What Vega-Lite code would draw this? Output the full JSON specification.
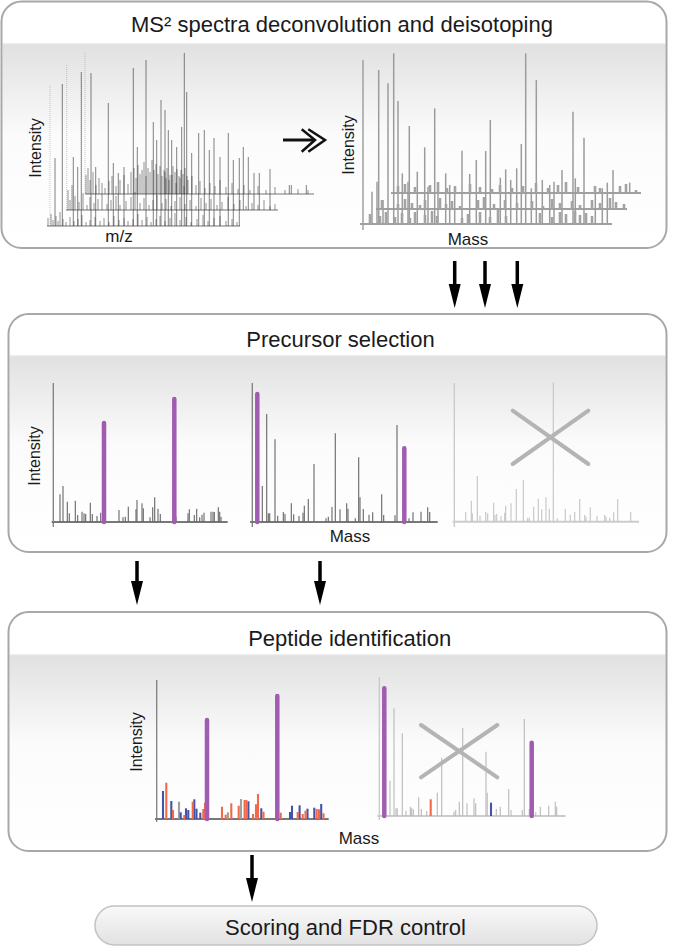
{
"$schema":"https://vega.github.io/schema/vega-lite/v6.json",
"width":676,"height":947,"autosize":{"type":"none"},"padding":0,"background":"white",
"config":{"view":{"stroke":null}},
"datasets":{
"boxes":[{"x":2.5,"x2":665.5,"y":44.5,"y2":247},{"x":9.5,"x2":665.5,"y":356.5,"y2":551},{"x":9.5,"x2":665.5,"y":655.5,"y2":850}],
"outlines":[{"x":1.5,"x2":666.5,"y":1.5,"y2":248},{"x":8.5,"x2":666.5,"y":314,"y2":552},{"x":8.5,"x2":666.5,"y":612,"y2":851}],
"pill":[{"x":95,"x2":597,"y":906,"y2":945}],
"lines":[
{"x":2.5,"x2":665.5,"y":44,"y2":44,"k":"sep"},{"x":9.5,"x2":665.5,"y":356,"y2":356,"k":"sep"},{"x":9.5,"x2":665.5,"y":655,"y2":655,"k":"sep"},
{"x":47,"x2":240,"y":226,"y2":226,"k":"tlb"},{"x":66,"x2":278,"y":210,"y2":210,"k":"tlb"},{"x":85,"x2":314,"y":194,"y2":194,"k":"tlb"},
{"x":363,"x2":363,"y":60,"y2":230,"k":"tra"},
{"x":360,"x2":612,"y":224,"y2":224,"k":"trb"},{"x":376,"x2":627,"y":209,"y2":209,"k":"trb"},{"x":391,"x2":641,"y":193,"y2":193,"k":"trb"},
{"x":53.3,"x2":53.3,"y":383,"y2":527,"k":"pa"},{"x":252.3,"x2":252.3,"y":383,"y2":527,"k":"pa"},{"x":156.7,"x2":156.7,"y":680,"y2":822,"k":"pa"},
{"x":51.7,"x2":227.7,"y":522,"y2":522,"k":"pb"},{"x":250,"x2":437.7,"y":522,"y2":522,"k":"pb"},{"x":155,"x2":328.7,"y":819,"y2":819,"k":"pb"},
{"x":454.3,"x2":454.3,"y":383,"y2":527,"k":"pla"},{"x":379.3,"x2":379.3,"y":677,"y2":820,"k":"pla"},
{"x":452.7,"x2":639,"y":521.7,"y2":521.7,"k":"plb"},{"x":377.3,"x2":565.7,"y":816,"y2":816,"k":"plb"}
],
"dots":[{"x":50,"y":85,"y2":226},{"x":66.7,"y":65,"y2":210},{"x":85,"y":52,"y2":194}],
"peaks":[
{"x":55,"y":158,"y2":226,"k":"tl"},{"x":62.3,"y":84,"y2":226,"k":"tl"},{"x":73.3,"y":157,"y2":226,"k":"tl"},{"x":77.7,"y":167,"y2":226,"k":"tl"},{"x":81.3,"y":72,"y2":226,"k":"tl"},{"x":91,"y":73,"y2":226,"k":"tl"},{"x":95.7,"y":167,"y2":226,"k":"tl"},{"x":108.3,"y":103,"y2":226,"k":"tl"},{"x":113.3,"y":163,"y2":226,"k":"tl"},{"x":118.3,"y":173,"y2":226,"k":"tl"},{"x":124,"y":167,"y2":226,"k":"tl"},{"x":133.3,"y":68,"y2":226,"k":"tl"},{"x":137.3,"y":147,"y2":226,"k":"tl"},{"x":146,"y":60,"y2":226,"k":"tl"},{"x":153.3,"y":122,"y2":226,"k":"tl"},{"x":156.7,"y":140,"y2":226,"k":"tl"},{"x":161,"y":100,"y2":226,"k":"tl"},{"x":165,"y":110,"y2":226,"k":"tl"},{"x":168.3,"y":130,"y2":226,"k":"tl"},{"x":171.7,"y":140,"y2":226,"k":"tl"},{"x":176.7,"y":147,"y2":226,"k":"tl"},{"x":181.7,"y":127,"y2":226,"k":"tl"},{"x":184.3,"y":53,"y2":226,"k":"tl"},{"x":186.7,"y":92,"y2":226,"k":"tl"},{"x":191.7,"y":153,"y2":226,"k":"tl"},{"x":198.7,"y":133,"y2":226,"k":"tl"},{"x":204.3,"y":130,"y2":226,"k":"tl"},{"x":209.3,"y":150,"y2":226,"k":"tl"},{"x":214,"y":138,"y2":226,"k":"tl"},{"x":220,"y":157,"y2":226,"k":"tl"},{"x":228.3,"y":133,"y2":226,"k":"tl"},{"x":233.3,"y":160,"y2":226,"k":"tl"},{"x":239.3,"y":158,"y2":226,"k":"tl"},{"x":243.3,"y":147,"y2":210,"k":"tl"},{"x":248.3,"y":157,"y2":210,"k":"tl"},{"x":254,"y":173,"y2":210,"k":"tl"},{"x":259.3,"y":173,"y2":210,"k":"tl"},{"x":270,"y":169,"y2":210,"k":"tl"},{"x":289.3,"y":185,"y2":194,"k":"tl"},{"x":291.3,"y":185,"y2":194,"k":"tl"},{"x":306.3,"y":185,"y2":194,"k":"tl"},
{"x":48,"y":218,"y2":226,"k":"tn"},{"x":51,"y":214,"y2":226,"k":"tn"},{"x":53,"y":220,"y2":226,"k":"tn"},{"x":56,"y":216,"y2":226,"k":"tn"},{"x":58,"y":221,"y2":226,"k":"tn"},{"x":60,"y":212,"y2":226,"k":"tn"},{"x":63,"y":219,"y2":226,"k":"tn"},{"x":66,"y":222,"y2":226,"k":"tn"},{"x":70,"y":217,"y2":226,"k":"tn"},{"x":74,"y":221,"y2":226,"k":"tn"},{"x":78,"y":219,"y2":226,"k":"tn"},{"x":82,"y":215,"y2":226,"k":"tn"},{"x":86,"y":222,"y2":226,"k":"tn"},{"x":90,"y":220,"y2":226,"k":"tn"},{"x":95,"y":217,"y2":226,"k":"tn"},{"x":100,"y":221,"y2":226,"k":"tn"},{"x":104,"y":218,"y2":226,"k":"tn"},{"x":109,"y":222,"y2":226,"k":"tn"},{"x":114,"y":216,"y2":226,"k":"tn"},{"x":119,"y":220,"y2":226,"k":"tn"},{"x":124,"y":218,"y2":226,"k":"tn"},{"x":128,"y":221,"y2":226,"k":"tn"},{"x":133,"y":219,"y2":226,"k":"tn"},{"x":138,"y":214,"y2":226,"k":"tn"},{"x":142,"y":220,"y2":226,"k":"tn"},{"x":147,"y":217,"y2":226,"k":"tn"},{"x":151,"y":222,"y2":226,"k":"tn"},{"x":156,"y":219,"y2":226,"k":"tn"},{"x":160,"y":216,"y2":226,"k":"tn"},{"x":165,"y":221,"y2":226,"k":"tn"},{"x":170,"y":218,"y2":226,"k":"tn"},{"x":175,"y":213,"y2":226,"k":"tn"},{"x":180,"y":220,"y2":226,"k":"tn"},{"x":186,"y":217,"y2":226,"k":"tn"},{"x":191,"y":222,"y2":226,"k":"tn"},{"x":197,"y":219,"y2":226,"k":"tn"},{"x":203,"y":215,"y2":226,"k":"tn"},{"x":208,"y":221,"y2":226,"k":"tn"},{"x":214,"y":218,"y2":226,"k":"tn"},{"x":220,"y":216,"y2":226,"k":"tn"},{"x":226,"y":221,"y2":226,"k":"tn"},{"x":232,"y":219,"y2":226,"k":"tn"},{"x":237,"y":222,"y2":226,"k":"tn"},
{"x":68,"y":190,"y2":210,"k":"tn"},{"x":70,"y":200,"y2":210,"k":"tn"},{"x":72,"y":185,"y2":210,"k":"tn"},{"x":75,"y":196,"y2":210,"k":"tn"},{"x":79,"y":202,"y2":210,"k":"tn"},{"x":83,"y":193,"y2":210,"k":"tn"},{"x":87,"y":205,"y2":210,"k":"tn"},{"x":90,"y":197,"y2":210,"k":"tn"},{"x":94,"y":203,"y2":210,"k":"tn"},{"x":98,"y":199,"y2":210,"k":"tn"},{"x":102,"y":194,"y2":210,"k":"tn"},{"x":107,"y":204,"y2":210,"k":"tn"},{"x":111,"y":200,"y2":210,"k":"tn"},{"x":116,"y":196,"y2":210,"k":"tn"},{"x":120,"y":205,"y2":210,"k":"tn"},{"x":126,"y":201,"y2":210,"k":"tn"},{"x":131,"y":197,"y2":210,"k":"tn"},{"x":135,"y":192,"y2":210,"k":"tn"},{"x":140,"y":203,"y2":210,"k":"tn"},{"x":144,"y":198,"y2":210,"k":"tn"},{"x":149,"y":205,"y2":210,"k":"tn"},{"x":153,"y":200,"y2":210,"k":"tn"},{"x":157,"y":195,"y2":210,"k":"tn"},{"x":162,"y":203,"y2":210,"k":"tn"},{"x":166,"y":199,"y2":210,"k":"tn"},{"x":171,"y":206,"y2":210,"k":"tn"},{"x":175,"y":201,"y2":210,"k":"tn"},{"x":180,"y":197,"y2":210,"k":"tn"},{"x":185,"y":204,"y2":210,"k":"tn"},{"x":190,"y":200,"y2":210,"k":"tn"},{"x":196,"y":206,"y2":210,"k":"tn"},{"x":201,"y":198,"y2":210,"k":"tn"},{"x":206,"y":203,"y2":210,"k":"tn"},{"x":211,"y":199,"y2":210,"k":"tn"},{"x":217,"y":205,"y2":210,"k":"tn"},{"x":222,"y":202,"y2":210,"k":"tn"},{"x":228,"y":197,"y2":210,"k":"tn"},{"x":234,"y":204,"y2":210,"k":"tn"},{"x":240,"y":200,"y2":210,"k":"tn"},{"x":246,"y":206,"y2":210,"k":"tn"},{"x":252,"y":203,"y2":210,"k":"tn"},{"x":258,"y":205,"y2":210,"k":"tn"},{"x":264,"y":200,"y2":210,"k":"tn"},{"x":270,"y":206,"y2":210,"k":"tn"},{"x":275,"y":204,"y2":210,"k":"tn"},
{"x":86,"y":175,"y2":194,"k":"tn"},{"x":88,"y":168,"y2":194,"k":"tn"},{"x":90,"y":180,"y2":194,"k":"tn"},{"x":93,"y":172,"y2":194,"k":"tn"},{"x":96,"y":185,"y2":194,"k":"tn"},{"x":99,"y":178,"y2":194,"k":"tn"},{"x":102,"y":183,"y2":194,"k":"tn"},{"x":105,"y":188,"y2":194,"k":"tn"},{"x":109,"y":181,"y2":194,"k":"tn"},{"x":112,"y":176,"y2":194,"k":"tn"},{"x":116,"y":186,"y2":194,"k":"tn"},{"x":120,"y":180,"y2":194,"k":"tn"},{"x":124,"y":175,"y2":194,"k":"tn"},{"x":128,"y":184,"y2":194,"k":"tn"},{"x":131,"y":172,"y2":194,"k":"tn"},{"x":134,"y":168,"y2":194,"k":"tn"},{"x":136,"y":178,"y2":194,"k":"tn"},{"x":138,"y":165,"y2":194,"k":"tn"},{"x":140,"y":174,"y2":194,"k":"tn"},{"x":142,"y":170,"y2":194,"k":"tn"},{"x":144,"y":162,"y2":194,"k":"tn"},{"x":146,"y":176,"y2":194,"k":"tn"},{"x":148,"y":168,"y2":194,"k":"tn"},{"x":150,"y":172,"y2":194,"k":"tn"},{"x":152,"y":160,"y2":194,"k":"tn"},{"x":154,"y":170,"y2":194,"k":"tn"},{"x":156,"y":164,"y2":194,"k":"tn"},{"x":158,"y":174,"y2":194,"k":"tn"},{"x":160,"y":166,"y2":194,"k":"tn"},{"x":162,"y":176,"y2":194,"k":"tn"},{"x":164,"y":170,"y2":194,"k":"tn"},{"x":165,"y":172,"y2":194,"k":"tn"},{"x":166,"y":178,"y2":194,"k":"tn"},{"x":167,"y":168,"y2":194,"k":"tn"},{"x":169,"y":180,"y2":194,"k":"tn"},{"x":170,"y":175,"y2":194,"k":"tn"},{"x":172,"y":175,"y2":194,"k":"tn"},{"x":173,"y":166,"y2":194,"k":"tn"},{"x":175,"y":172,"y2":194,"k":"tn"},{"x":176,"y":183,"y2":194,"k":"tn"},{"x":177,"y":169,"y2":194,"k":"tn"},{"x":179,"y":176,"y2":194,"k":"tn"},{"x":180,"y":178,"y2":194,"k":"tn"},{"x":181,"y":170,"y2":194,"k":"tn"},{"x":183,"y":174,"y2":194,"k":"tn"},{"x":184,"y":186,"y2":194,"k":"tn"},{"x":185,"y":168,"y2":194,"k":"tn"},{"x":187,"y":176,"y2":194,"k":"tn"},{"x":188,"y":180,"y2":194,"k":"tn"},{"x":192,"y":176,"y2":194,"k":"tn"},{"x":196,"y":185,"y2":194,"k":"tn"},{"x":200,"y":181,"y2":194,"k":"tn"},{"x":205,"y":188,"y2":194,"k":"tn"},{"x":210,"y":183,"y2":194,"k":"tn"},{"x":215,"y":186,"y2":194,"k":"tn"},{"x":220,"y":180,"y2":194,"k":"tn"},{"x":226,"y":187,"y2":194,"k":"tn"},{"x":232,"y":183,"y2":194,"k":"tn"},{"x":238,"y":189,"y2":194,"k":"tn"},{"x":244,"y":185,"y2":194,"k":"tn"},{"x":250,"y":190,"y2":194,"k":"tn"},{"x":258,"y":186,"y2":194,"k":"tn"},{"x":266,"y":190,"y2":194,"k":"tn"},{"x":275,"y":187,"y2":194,"k":"tn"},{"x":285,"y":190,"y2":194,"k":"tn"},{"x":298,"y":189,"y2":194,"k":"tn"},{"x":308,"y":190,"y2":194,"k":"tn"},
{"x":372,"y":191.7,"y2":224,"k":"tr"},{"x":377,"y":181.7,"y2":224,"k":"tr"},{"x":378.7,"y":70,"y2":224,"k":"tr"},{"x":383,"y":200,"y2":224,"k":"tr"},{"x":388,"y":83.3,"y2":224,"k":"tr"},{"x":393.7,"y":53.3,"y2":224,"k":"tr"},{"x":398,"y":101,"y2":224,"k":"tr"},{"x":402.3,"y":173.3,"y2":224,"k":"tr"},{"x":408,"y":181.7,"y2":224,"k":"tr"},{"x":409.3,"y":126,"y2":224,"k":"tr"},{"x":417.3,"y":171.7,"y2":224,"k":"tr"},{"x":424.7,"y":147.3,"y2":224,"k":"tr"},{"x":428,"y":186.7,"y2":224,"k":"tr"},{"x":434.7,"y":108.3,"y2":224,"k":"tr"},{"x":438,"y":183.3,"y2":224,"k":"tr"},{"x":445.7,"y":173.3,"y2":224,"k":"tr"},{"x":449.7,"y":185,"y2":224,"k":"tr"},{"x":454.7,"y":186.7,"y2":224,"k":"tr"},{"x":462,"y":150.7,"y2":224,"k":"tr"},{"x":469.7,"y":174,"y2":224,"k":"tr"},{"x":476.3,"y":160,"y2":224,"k":"tr"},{"x":485.7,"y":151,"y2":224,"k":"tr"},{"x":490.3,"y":120,"y2":224,"k":"tr"},{"x":500.3,"y":177.7,"y2":224,"k":"tr"},{"x":505.7,"y":169.3,"y2":224,"k":"tr"},{"x":510.7,"y":180,"y2":224,"k":"tr"},{"x":516.7,"y":168.3,"y2":224,"k":"tr"},{"x":521.3,"y":144,"y2":224,"k":"tr"},{"x":525.7,"y":53.3,"y2":224,"k":"tr"},{"x":531.3,"y":188.3,"y2":224,"k":"tr"},{"x":536.3,"y":80,"y2":224,"k":"tr"},{"x":542.3,"y":180,"y2":224,"k":"tr"},{"x":549.7,"y":185,"y2":224,"k":"tr"},{"x":554,"y":181.7,"y2":224,"k":"tr"},{"x":562,"y":170,"y2":224,"k":"tr"},{"x":573,"y":111.7,"y2":224,"k":"tr"},{"x":575.3,"y":178.3,"y2":224,"k":"tr"},{"x":584,"y":137.7,"y2":224,"k":"tr"},{"x":595.3,"y":186.7,"y2":224,"k":"tr"},{"x":602.3,"y":188.3,"y2":224,"k":"tr"},{"x":607.3,"y":182.7,"y2":224,"k":"tr"},{"x":613,"y":170,"y2":209,"k":"tr"},{"x":629.7,"y":182.7,"y2":193,"k":"tr"},
{"x":398,"y":186,"y2":193,"k":"trs"},{"x":405,"y":184,"y2":193,"k":"trs"},{"x":415,"y":187,"y2":193,"k":"trs"},{"x":430,"y":185,"y2":193,"k":"trs"},{"x":438,"y":182,"y2":193,"k":"trs"},{"x":447,"y":188,"y2":193,"k":"trs"},{"x":455,"y":186,"y2":193,"k":"trs"},{"x":470,"y":184,"y2":193,"k":"trs"},{"x":480,"y":187,"y2":193,"k":"trs"},{"x":492,"y":189,"y2":193,"k":"trs"},{"x":500,"y":185,"y2":193,"k":"trs"},{"x":512,"y":188,"y2":193,"k":"trs"},{"x":523,"y":186,"y2":193,"k":"trs"},{"x":536,"y":183,"y2":193,"k":"trs"},{"x":548,"y":188,"y2":193,"k":"trs"},{"x":558,"y":185,"y2":193,"k":"trs"},{"x":566,"y":182,"y2":193,"k":"trs"},{"x":578,"y":187,"y2":193,"k":"trs"},{"x":595,"y":186,"y2":193,"k":"trs"},{"x":600,"y":188,"y2":193,"k":"trs"},{"x":620,"y":186,"y2":193,"k":"trs"},{"x":626,"y":184,"y2":193,"k":"trs"},{"x":636,"y":190,"y2":193,"k":"trs"},
{"x":382,"y":200,"y2":209,"k":"trs"},{"x":398,"y":204,"y2":209,"k":"trs"},{"x":405,"y":199,"y2":209,"k":"trs"},{"x":412,"y":203,"y2":209,"k":"trs"},{"x":420,"y":205,"y2":209,"k":"trs"},{"x":425,"y":200,"y2":209,"k":"trs"},{"x":440,"y":198,"y2":209,"k":"trs"},{"x":446,"y":204,"y2":209,"k":"trs"},{"x":452,"y":201,"y2":209,"k":"trs"},{"x":460,"y":206,"y2":209,"k":"trs"},{"x":478,"y":200,"y2":209,"k":"trs"},{"x":484,"y":197,"y2":209,"k":"trs"},{"x":494,"y":204,"y2":209,"k":"trs"},{"x":505,"y":200,"y2":209,"k":"trs"},{"x":517,"y":203,"y2":209,"k":"trs"},{"x":532,"y":201,"y2":209,"k":"trs"},{"x":543,"y":206,"y2":209,"k":"trs"},{"x":552,"y":199,"y2":209,"k":"trs"},{"x":560,"y":203,"y2":209,"k":"trs"},{"x":572,"y":201,"y2":209,"k":"trs"},{"x":580,"y":205,"y2":209,"k":"trs"},{"x":592,"y":200,"y2":209,"k":"trs"},{"x":600,"y":203,"y2":209,"k":"trs"},{"x":610,"y":198,"y2":209,"k":"trs"},{"x":616,"y":202,"y2":209,"k":"trs"},{"x":624,"y":204,"y2":209,"k":"trs"},
{"x":370,"y":214,"y2":224,"k":"trs"},{"x":380,"y":216,"y2":224,"k":"trs"},{"x":386,"y":212,"y2":224,"k":"trs"},{"x":395,"y":217,"y2":224,"k":"trs"},{"x":402,"y":213,"y2":224,"k":"trs"},{"x":410,"y":218,"y2":224,"k":"trs"},{"x":415,"y":212,"y2":224,"k":"trs"},{"x":425,"y":215,"y2":224,"k":"trs"},{"x":432,"y":211,"y2":224,"k":"trs"},{"x":437,"y":216,"y2":224,"k":"trs"},{"x":462,"y":218,"y2":224,"k":"trs"},{"x":468,"y":214,"y2":224,"k":"trs"},{"x":480,"y":212,"y2":224,"k":"trs"},{"x":490,"y":217,"y2":224,"k":"trs"},{"x":498,"y":210,"y2":224,"k":"trs"},{"x":506,"y":216,"y2":224,"k":"trs"},{"x":540,"y":213,"y2":224,"k":"trs"},{"x":552,"y":217,"y2":224,"k":"trs"},{"x":560,"y":212,"y2":224,"k":"trs"},{"x":566,"y":214,"y2":224,"k":"trs"},{"x":575,"y":211,"y2":224,"k":"trs"},{"x":580,"y":215,"y2":224,"k":"trs"},{"x":586,"y":213,"y2":224,"k":"trs"},{"x":592,"y":216,"y2":224,"k":"trs"},
{"x":60,"y":494.3,"y2":522,"k":"pg"},{"x":63,"y":486,"y2":522,"k":"pg"},{"x":67.3,"y":501.7,"y2":522,"k":"pg"},{"x":69.3,"y":513.3,"y2":522,"k":"pg"},{"x":75.3,"y":500.7,"y2":522,"k":"pg"},{"x":77.7,"y":515,"y2":522,"k":"pg"},{"x":82,"y":511.7,"y2":522,"k":"pg"},{"x":84,"y":513.3,"y2":522,"k":"pg"},{"x":85.7,"y":514,"y2":522,"k":"pg"},{"x":90.3,"y":502.7,"y2":522,"k":"pg"},{"x":92.3,"y":514,"y2":522,"k":"pg"},{"x":97,"y":516,"y2":522,"k":"pg"},{"x":100.7,"y":512.7,"y2":522,"k":"pg"},{"x":119,"y":510,"y2":522,"k":"pg"},{"x":123,"y":517.3,"y2":522,"k":"pg"},{"x":125.3,"y":516.7,"y2":522,"k":"pg"},{"x":128.3,"y":506.7,"y2":522,"k":"pg"},{"x":136,"y":509.3,"y2":522,"k":"pg"},{"x":137,"y":500,"y2":522,"k":"pg"},{"x":142,"y":503.3,"y2":522,"k":"pg"},{"x":143.3,"y":508.3,"y2":522,"k":"pg"},{"x":150,"y":517.3,"y2":522,"k":"pg"},{"x":152.7,"y":507.3,"y2":522,"k":"pg"},{"x":154.7,"y":497.3,"y2":522,"k":"pg"},{"x":158,"y":508.7,"y2":522,"k":"pg"},{"x":160.3,"y":514,"y2":522,"k":"pg"},{"x":176,"y":516.7,"y2":522,"k":"pg"},{"x":188,"y":513.3,"y2":522,"k":"pg"},{"x":189.3,"y":509.3,"y2":522,"k":"pg"},{"x":194.3,"y":515,"y2":522,"k":"pg"},{"x":196.7,"y":508.7,"y2":522,"k":"pg"},{"x":199.7,"y":517.3,"y2":522,"k":"pg"},{"x":202,"y":514.7,"y2":522,"k":"pg"},{"x":204,"y":512.7,"y2":522,"k":"pg"},{"x":211,"y":511.7,"y2":522,"k":"pg"},{"x":213,"y":511.7,"y2":522,"k":"pg"},{"x":214.3,"y":512,"y2":522,"k":"pg"},{"x":218.3,"y":507.3,"y2":522,"k":"pg"},{"x":219.7,"y":511.7,"y2":522,"k":"pg"},{"x":221,"y":516.7,"y2":522,"k":"pg"},
{"x":262.3,"y":486,"y2":522,"k":"pg"},{"x":266.7,"y":414,"y2":522,"k":"pg"},{"x":268.3,"y":513.3,"y2":522,"k":"pg"},{"x":269.7,"y":513.3,"y2":522,"k":"pg"},{"x":275,"y":439.3,"y2":522,"k":"pg"},{"x":277.7,"y":515.7,"y2":522,"k":"pg"},{"x":283.3,"y":512,"y2":522,"k":"pg"},{"x":285,"y":514,"y2":522,"k":"pg"},{"x":291.3,"y":503.3,"y2":522,"k":"pg"},{"x":293.7,"y":514.3,"y2":522,"k":"pg"},{"x":299,"y":516,"y2":522,"k":"pg"},{"x":303,"y":512.7,"y2":522,"k":"pg"},{"x":304.3,"y":505.7,"y2":522,"k":"pg"},{"x":308.3,"y":499,"y2":522,"k":"pg"},{"x":314,"y":464,"y2":522,"k":"pg"},{"x":326,"y":518.3,"y2":522,"k":"pg"},{"x":328.3,"y":516.7,"y2":522,"k":"pg"},{"x":332,"y":507,"y2":522,"k":"pg"},{"x":335.3,"y":433.3,"y2":522,"k":"pg"},{"x":340,"y":509.3,"y2":522,"k":"pg"},{"x":346.7,"y":503.3,"y2":522,"k":"pg"},{"x":348,"y":508.7,"y2":522,"k":"pg"},{"x":355.3,"y":518.3,"y2":522,"k":"pg"},{"x":358.7,"y":457.3,"y2":522,"k":"pg"},{"x":360,"y":497.3,"y2":522,"k":"pg"},{"x":363.3,"y":509,"y2":522,"k":"pg"},{"x":369,"y":514.7,"y2":522,"k":"pg"},{"x":372.7,"y":512.3,"y2":522,"k":"pg"},{"x":381.7,"y":494.3,"y2":522,"k":"pg"},{"x":383.7,"y":515,"y2":522,"k":"pg"},{"x":395,"y":515.3,"y2":522,"k":"pg"},{"x":397,"y":425,"y2":522,"k":"pg"},{"x":409,"y":518.3,"y2":522,"k":"pg"},{"x":413,"y":512.3,"y2":522,"k":"pg"},{"x":421,"y":511.7,"y2":522,"k":"pg"},{"x":427.7,"y":507.3,"y2":522,"k":"pg"},{"x":429.7,"y":512,"y2":522,"k":"pg"},
{"x":465.7,"y":511.7,"y2":521.7,"k":"pl"},{"x":471.3,"y":500.7,"y2":521.7,"k":"pl"},{"x":472.3,"y":513.3,"y2":521.7,"k":"pl"},{"x":477.3,"y":476,"y2":521.7,"k":"pl"},{"x":480,"y":515.7,"y2":521.7,"k":"pl"},{"x":485.7,"y":511.7,"y2":521.7,"k":"pl"},{"x":487.7,"y":513.3,"y2":521.7,"k":"pl"},{"x":493.7,"y":502.7,"y2":521.7,"k":"pl"},{"x":495,"y":515,"y2":521.7,"k":"pl"},{"x":496.7,"y":514,"y2":521.7,"k":"pl"},{"x":501,"y":516,"y2":521.7,"k":"pl"},{"x":504.7,"y":512.7,"y2":521.7,"k":"pl"},{"x":505.7,"y":505.7,"y2":521.7,"k":"pl"},{"x":511,"y":503.3,"y2":521.7,"k":"pl"},{"x":516.3,"y":489,"y2":521.7,"k":"pl"},{"x":523.3,"y":480,"y2":521.7,"k":"pl"},{"x":527.7,"y":517.7,"y2":521.7,"k":"pl"},{"x":529.3,"y":517.7,"y2":521.7,"k":"pl"},{"x":533.7,"y":506.7,"y2":521.7,"k":"pl"},{"x":538.3,"y":498.7,"y2":521.7,"k":"pl"},{"x":541.7,"y":509.3,"y2":521.7,"k":"pl"},{"x":546,"y":497.3,"y2":521.7,"k":"pl"},{"x":549.3,"y":508.7,"y2":521.7,"k":"pl"},{"x":553.3,"y":382.7,"y2":521.7,"k":"pl"},{"x":557.3,"y":518.3,"y2":521.7,"k":"pl"},{"x":565.3,"y":508.7,"y2":521.7,"k":"pl"},{"x":570.3,"y":514.7,"y2":521.7,"k":"pl"},{"x":574.7,"y":512,"y2":521.7,"k":"pl"},{"x":579.7,"y":499,"y2":521.7,"k":"pl"},{"x":584.7,"y":515,"y2":521.7,"k":"pl"},{"x":586,"y":516.7,"y2":521.7,"k":"pl"},{"x":590.3,"y":507.3,"y2":521.7,"k":"pl"},{"x":597,"y":515.7,"y2":521.7,"k":"pl"},{"x":604.7,"y":515,"y2":521.7,"k":"pl"},{"x":606,"y":516.7,"y2":521.7,"k":"pl"},{"x":609.7,"y":517.7,"y2":521.7,"k":"pl"},{"x":613.7,"y":512.3,"y2":521.7,"k":"pl"},{"x":617.7,"y":499,"y2":521.7,"k":"pl"},{"x":630.7,"y":512,"y2":521.7,"k":"pl"},
{"x":163,"y":791,"y2":819,"k":"ob"},{"x":166.3,"y":782.7,"y2":819,"k":"oo"},{"x":171.3,"y":801,"y2":819,"k":"ob"},{"x":173,"y":810,"y2":819,"k":"oo"},{"x":179,"y":801.7,"y2":819,"k":"og"},{"x":180.7,"y":812.3,"y2":819,"k":"ob"},{"x":184.3,"y":815,"y2":819,"k":"oo"},{"x":186,"y":808.3,"y2":819,"k":"ob"},{"x":188.3,"y":810,"y2":819,"k":"ob"},{"x":192.7,"y":801.7,"y2":819,"k":"oo"},{"x":194.3,"y":799.3,"y2":819,"k":"ob"},{"x":196.5,"y":808.7,"y2":819,"k":"ob"},{"x":200.3,"y":812.7,"y2":819,"k":"ob"},{"x":203.3,"y":809,"y2":819,"k":"oo"},{"x":205,"y":802.7,"y2":819,"k":"oo"},{"x":222,"y":806.7,"y2":819,"k":"oo"},{"x":225.7,"y":814.7,"y2":819,"k":"oo"},{"x":227.9,"y":812.3,"y2":819,"k":"og"},{"x":231.3,"y":803.3,"y2":819,"k":"oo"},{"x":238.7,"y":805.7,"y2":819,"k":"oo"},{"x":241,"y":799,"y2":819,"k":"og"},{"x":244.6,"y":800,"y2":819,"k":"oo"},{"x":246.4,"y":800,"y2":819,"k":"oo"},{"x":248.4,"y":801.3,"y2":819,"k":"ob"},{"x":253,"y":814,"y2":819,"k":"oo"},{"x":256,"y":804.3,"y2":819,"k":"oo"},{"x":258,"y":794,"y2":819,"k":"oo"},{"x":261.3,"y":808.3,"y2":819,"k":"ob"},{"x":263.5,"y":811.7,"y2":819,"k":"oo"},{"x":280.7,"y":812.7,"y2":819,"k":"oo"},{"x":290,"y":812,"y2":819,"k":"ob"},{"x":292,"y":805.7,"y2":819,"k":"ob"},{"x":297.7,"y":812,"y2":819,"k":"oo"},{"x":299.6,"y":805.3,"y2":819,"k":"ob"},{"x":302.7,"y":814,"y2":819,"k":"oo"},{"x":305.5,"y":810.7,"y2":819,"k":"oo"},{"x":307.5,"y":808.7,"y2":819,"k":"ob"},{"x":314.3,"y":807.7,"y2":819,"k":"ob"},{"x":316.7,"y":809,"y2":819,"k":"oo"},{"x":319,"y":809.3,"y2":819,"k":"oo"},{"x":321.2,"y":804,"y2":819,"k":"ob"},{"x":323.5,"y":813.3,"y2":819,"k":"oo"},
{"x":390,"y":780.7,"y2":816,"k":"lg"},{"x":394,"y":708.3,"y2":816,"k":"lg"},{"x":396,"y":808.3,"y2":816,"k":"lg"},{"x":397.2,"y":808.3,"y2":816,"k":"lg"},{"x":402.3,"y":733.3,"y2":816,"k":"lg"},{"x":406,"y":810.7,"y2":816,"k":"lg"},{"x":410.3,"y":806.7,"y2":816,"k":"lg"},{"x":411.7,"y":808.3,"y2":816,"k":"lg"},{"x":413.3,"y":809.3,"y2":816,"k":"lg"},{"x":418.7,"y":797.3,"y2":816,"k":"lg"},{"x":421.3,"y":809,"y2":816,"k":"lg"},{"x":426.7,"y":811,"y2":816,"k":"lg"},{"x":437.3,"y":792.7,"y2":816,"k":"lg"},{"x":441.7,"y":757.7,"y2":816,"k":"lg"},{"x":454,"y":811.7,"y2":816,"k":"lg"},{"x":455.7,"y":810,"y2":816,"k":"lg"},{"x":459.3,"y":801.7,"y2":816,"k":"lg"},{"x":462.7,"y":728,"y2":816,"k":"lg"},{"x":467,"y":803.3,"y2":816,"k":"lg"},{"x":474,"y":798.3,"y2":816,"k":"lg"},{"x":475.7,"y":803.3,"y2":816,"k":"lg"},{"x":486,"y":751.7,"y2":816,"k":"lg"},{"x":487.2,"y":792.7,"y2":816,"k":"lg"},{"x":496.3,"y":809,"y2":816,"k":"lg"},{"x":500.3,"y":806.7,"y2":816,"k":"lg"},{"x":508.7,"y":789,"y2":816,"k":"lg"},{"x":511,"y":810,"y2":816,"k":"lg"},{"x":522.3,"y":810,"y2":816,"k":"lg"},{"x":524.3,"y":719,"y2":816,"k":"lg"},{"x":529.3,"y":809,"y2":816,"k":"lg"},{"x":535.7,"y":812.3,"y2":816,"k":"lg"},{"x":540.3,"y":806.7,"y2":816,"k":"lg"},{"x":548.7,"y":805.7,"y2":816,"k":"lg"},{"x":555.3,"y":801.7,"y2":816,"k":"lg"},{"x":556.7,"y":806.7,"y2":816,"k":"lg"},
{"x":430.7,"y":799.3,"y2":816,"k":"oo"},{"x":491,"y":802.7,"y2":816,"k":"ob"}
],
"precursors":[{"x":104,"y":423,"y2":522},{"x":174.3,"y":399,"y2":522},{"x":257.3,"y":394,"y2":522},{"x":404.3,"y":448.3,"y2":522},{"x":207,"y":720,"y2":819},{"x":277.3,"y":696,"y2":819},{"x":384.3,"y":688.3,"y2":816},{"x":531.7,"y":742.7,"y2":816}],
"crosses":[{"x":512.7,"y":410.7,"x2":588.3,"y2":464},{"x":512.7,"y":464,"x2":588.3,"y2":410.7},{"x":421,"y":725,"x2":497.3,"y2":777.3},{"x":421,"y":777.3,"x2":497.3,"y2":725}],
"shafts":[{"x":454.7,"y":261,"y2":288},{"x":485,"y":261,"y2":288},{"x":517.3,"y":261,"y2":288},{"x":137,"y":561,"y2":585},{"x":320,"y":561,"y2":585},{"x":252,"y":855,"y2":880}],
"heads":[{"x":454.7,"y":296},{"x":485,"y":296},{"x":517.3,"y":296},{"x":137,"y":593},{"x":320,"y":593},{"x":252,"y":890}],
"chevrons":[{"g":1,"o":1,"x":301.7,"y":129.3},{"g":1,"o":2,"x":315,"y":140},{"g":1,"o":3,"x":301.7,"y":151.7},{"g":2,"o":1,"x":308.3,"y":129.3},{"g":2,"o":2,"x":325,"y":140},{"g":2,"o":3,"x":308.3,"y":151.7}],
"dshaft":[{"x":283,"x2":313,"y":140,"y2":140}],
"titles":[{"x":342,"y":31.5,"t":"MS² spectra deconvolution and deisotoping"},{"x":340.5,"y":347,"t":"Precursor selection"},{"x":349.7,"y":646,"t":"Peptide identification"},{"x":345.5,"y":935,"t":"Scoring and FDR control"}],
"labels":[{"x":119,"y":237,"t":"m/z"},{"x":468,"y":240,"t":"Mass"},{"x":350,"y":537,"t":"Mass"},{"x":359,"y":839,"t":"Mass"}],
"vlabels":[{"x":35.5,"y":148,"t":"Intensity"},{"x":349,"y":145,"t":"Intensity"},{"x":35,"y":456,"t":"Intensity"},{"x":136.5,"y":742,"t":"Intensity"}]
},
"encoding":{
"x":{"field":"x","type":"quantitative","scale":{"domain":[0,676],"nice":false,"zero":false},"axis":null},
"y":{"field":"y","type":"quantitative","scale":{"domain":[947,0],"nice":false,"zero":false},"axis":null}
},
"layer":[
{"data":{"name":"boxes"},"mark":{"type":"rect","cornerRadiusBottomLeft":18,"cornerRadiusBottomRight":18,"fill":{"gradient":"linear","x1":0,"y1":0,"x2":0,"y2":1,"stops":[{"offset":0,"color":"#e1e1e1"},{"offset":0.45,"color":"#fbfbfb"},{"offset":1,"color":"#ffffff"}]}},"encoding":{"x2":{"field":"x2"},"y2":{"field":"y2"}}},
{"data":{"name":"pill"},"mark":{"type":"rect","cornerRadius":19.5,"stroke":"#c2c2c2","strokeWidth":1.5,"fill":{"gradient":"linear","x1":0,"y1":0,"x2":0,"y2":1,"stops":[{"offset":0,"color":"#f9f9f9"},{"offset":0.5,"color":"#ededed"},{"offset":1,"color":"#e2e2e2"}]}},"encoding":{"x2":{"field":"x2"},"y2":{"field":"y2"}}},
{"data":{"name":"lines"},"transform":[{"filter":{"field":"k","equal":"sep"}}],"mark":{"type":"rule","color":"#dadada","strokeWidth":1},"encoding":{"x2":{"field":"x2"},"y2":{"field":"y2"}}},
{"data":{"name":"lines"},"transform":[{"filter":{"field":"k","equal":"tlb"}}],"mark":{"type":"rule","color":"#666666","strokeWidth":0.9},"encoding":{"x2":{"field":"x2"},"y2":{"field":"y2"}}},
{"data":{"name":"lines"},"transform":[{"filter":{"field":"k","equal":"tra"}}],"mark":{"type":"rule","color":"#a0a0a0","strokeWidth":1.5},"encoding":{"x2":{"field":"x2"},"y2":{"field":"y2"}}},
{"data":{"name":"lines"},"transform":[{"filter":{"field":"k","equal":"trb"}}],"mark":{"type":"rule","color":"#a0a0a0","strokeWidth":2.2},"encoding":{"x2":{"field":"x2"},"y2":{"field":"y2"}}},
{"data":{"name":"lines"},"transform":[{"filter":{"field":"k","equal":"pa"}}],"mark":{"type":"rule","color":"#7e7e7e","strokeWidth":1.3},"encoding":{"x2":{"field":"x2"},"y2":{"field":"y2"}}},
{"data":{"name":"lines"},"transform":[{"filter":{"field":"k","equal":"pb"}}],"mark":{"type":"rule","color":"#787878","strokeWidth":2.2},"encoding":{"x2":{"field":"x2"},"y2":{"field":"y2"}}},
{"data":{"name":"lines"},"transform":[{"filter":{"field":"k","equal":"pla"}}],"mark":{"type":"rule","color":"#c8c8c8","strokeWidth":1.3},"encoding":{"x2":{"field":"x2"},"y2":{"field":"y2"}}},
{"data":{"name":"lines"},"transform":[{"filter":{"field":"k","equal":"plb"}}],"mark":{"type":"rule","color":"#cccccc","strokeWidth":2},"encoding":{"x2":{"field":"x2"},"y2":{"field":"y2"}}},
{"data":{"name":"dots"},"mark":{"type":"rule","color":"#9a9a9a","strokeWidth":0.8,"strokeDash":[1,1],"opacity":0.7},"encoding":{"y2":{"field":"y2"}}},
{"data":{"name":"peaks"},"transform":[{"filter":{"field":"k","equal":"tn"}}],"mark":{"type":"rule","color":"#111111","strokeWidth":0.7,"opacity":0.65},"encoding":{"y2":{"field":"y2"}}},
{"data":{"name":"peaks"},"transform":[{"filter":{"field":"k","equal":"tl"}}],"mark":{"type":"rule","color":"#222222","strokeWidth":0.75,"opacity":0.75},"encoding":{"y2":{"field":"y2"}}},
{"data":{"name":"peaks"},"transform":[{"filter":{"field":"k","equal":"tr"}}],"mark":{"type":"rule","color":"#9c9c9c","strokeWidth":1.5},"encoding":{"y2":{"field":"y2"}}},
{"data":{"name":"peaks"},"transform":[{"filter":{"field":"k","equal":"trs"}}],"mark":{"type":"rule","color":"#a3a3a3","strokeWidth":2.6},"encoding":{"y2":{"field":"y2"}}},
{"data":{"name":"peaks"},"transform":[{"filter":{"field":"k","equal":"pg"}}],"mark":{"type":"rule","color":"#666666","strokeWidth":1.1},"encoding":{"y2":{"field":"y2"}}},
{"data":{"name":"peaks"},"transform":[{"filter":{"field":"k","equal":"pl"}}],"mark":{"type":"rule","color":"#c4c4c4","strokeWidth":1.1},"encoding":{"y2":{"field":"y2"}}},
{"data":{"name":"peaks"},"transform":[{"filter":{"field":"k","equal":"lg"}}],"mark":{"type":"rule","color":"#b9b9b9","strokeWidth":1.1},"encoding":{"y2":{"field":"y2"}}},
{"data":{"name":"peaks"},"transform":[{"filter":{"field":"k","equal":"og"}}],"mark":{"type":"rule","color":"#a0a0a0","strokeWidth":2.1},"encoding":{"y2":{"field":"y2"}}},
{"data":{"name":"peaks"},"transform":[{"filter":{"field":"k","equal":"ob"}}],"mark":{"type":"rule","color":"#4553a6","strokeWidth":2.1},"encoding":{"y2":{"field":"y2"}}},
{"data":{"name":"peaks"},"transform":[{"filter":{"field":"k","equal":"oo"}}],"mark":{"type":"rule","color":"#f06a4a","strokeWidth":2.1},"encoding":{"y2":{"field":"y2"}}},
{"data":{"name":"precursors"},"mark":{"type":"rule","color":"#a05cb0","strokeWidth":4.5,"strokeCap":"round"},"encoding":{"y2":{"field":"y2"}}},
{"data":{"name":"crosses"},"mark":{"type":"rule","color":"#b4b4b4","strokeWidth":4,"strokeCap":"round"},"encoding":{"x2":{"field":"x2"},"y2":{"field":"y2"}}},
{"data":{"name":"outlines"},"mark":{"type":"rect","filled":false,"color":"#a8a8a8","strokeWidth":2,"cornerRadius":20},"encoding":{"x2":{"field":"x2"},"y2":{"field":"y2"}}},
{"data":{"name":"shafts"},"mark":{"type":"rule","color":"#000000","strokeWidth":3.5},"encoding":{"y2":{"field":"y2"}}},
{"data":{"name":"heads"},"mark":{"type":"point","shape":"M -0.5 -1 L 0.5 -1 L 0 1 Z","size":576,"filled":true,"color":"#000000","opacity":1,"strokeWidth":0}},
{"data":{"name":"dshaft"},"mark":{"type":"rule","color":"#111111","strokeWidth":3},"encoding":{"x2":{"field":"x2"},"y2":{"field":"y2"}}},
{"data":{"name":"chevrons"},"mark":{"type":"line","color":"#111111","strokeWidth":2.5,"strokeJoin":"miter"},"encoding":{"detail":{"field":"g","type":"nominal"},"order":{"field":"o","type":"quantitative"}}},
{"data":{"name":"titles"},"mark":{"type":"text","font":"Liberation Sans","fontSize":22,"align":"center","baseline":"alphabetic","color":"#1a1a1a"},"encoding":{"text":{"field":"t"}}},
{"data":{"name":"labels"},"mark":{"type":"text","font":"Liberation Sans","fontSize":17,"align":"center","baseline":"middle","color":"#1a1a1a"},"encoding":{"text":{"field":"t"}}},
{"data":{"name":"vlabels"},"mark":{"type":"text","font":"Liberation Sans","fontSize":16,"align":"center","baseline":"middle","angle":270,"color":"#1a1a1a"},"encoding":{"text":{"field":"t"}}}
]
}
